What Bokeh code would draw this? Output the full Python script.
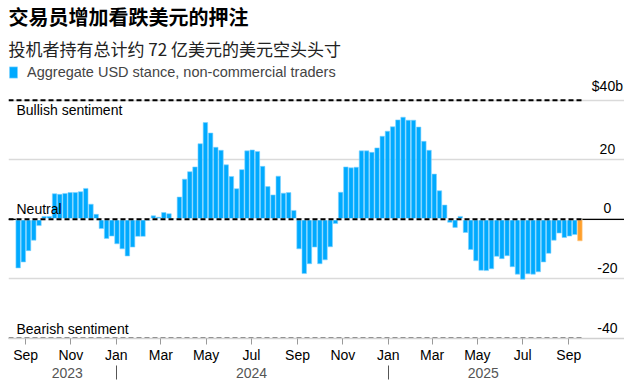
import pandas as pd
from bokeh.plotting import figure
from bokeh.models import (ColumnDataSource, DatetimeAxis, DatetimeTickFormatter,
                          FixedTicker, Title, Legend, LegendItem, Span)
from bokeh.core.properties import value
from bokeh.embed import file_html
from bokeh.resources import INLINE

# ---- data ----
first_week = "2023-08-22"
usd_stance = [
    -16.3, -14.3, -10.5, -7.0, -2.1, 1.0, 1.0, 8.6, 8.4, 8.7,
    9.0, 9.0, 9.3, 10.4, 5.1, 1.7, -3.1, -6.4, -5.6, -8.2,
    -9.9, -12.3, -9.3, -5.7, -5.7, -0.3, 1.2, 0.7, 2.3, 1.9,
    0.2, 7.5, 13.5, 16.0, 17.6, 25.4, 32.5, 29.0, 24.2, 23.2,
    18.3, 14.4, 10.3, 16.7, 23.0, 23.3, 22.8, 17.8, 11.0, 8.2,
    14.5, 8.8, 9.0, 3.0, -9.9, -18.2, -14.9, -9.3, -14.9, -13.6,
    -9.2, -1.4, 9.1, 17.6, 17.3, 17.5, 23.0, 23.0, 22.5, 24.0,
    27.9, 29.6, 31.1, 33.4, 34.3, 33.3, 33.3, 31.0, 26.2, 23.2,
    15.2, 9.6, 4.8, -1.0, -2.7, 1.0, -4.4, -10.1, -13.9, -17.1,
    -17.2, -16.6, -12.4, -13.2, -12.2, -15.9, -18.4, -20.1, -18.3, -18.4,
    -17.6, -14.3, -11.4, -7.0, -4.6, -6.1, -5.6, -5.1, -7.2,
]
week_dates = list(pd.date_range(first_week, periods=len(usd_stance), freq="7D"))

y_ticks = [-40, -20, 0, 20, 40]
y_tick_labels = ["-40", "-20", "0", "20", "$40b"]
sentiment_levels = [40, 0, -40]
sentiment_labels = ["Bullish sentiment", "Neutral", "Bearish sentiment"]
month_ticks = ["2023-09-01", "2023-11-01", "2024-01-01", "2024-03-01",
               "2024-05-01", "2024-07-01", "2024-09-01", "2024-11-01",
               "2025-01-01", "2025-03-01", "2025-05-01", "2025-07-01",
               "2025-09-01"]
year_labels_at = ["2023-10-27", "2024-07-01", "2025-05-09"]
year_separators = ["2024-01-01", "2025-01-01"]

title_text = "交易员增加看跌美元的押注"
subtitle_text = "投机者持有总计约 72 亿美元的美元空头头寸"
legend_text = "Aggregate USD stance, non-commercial traders"

BLUE = "#00aaff"
ORANGE = "#ff9f2b"
LATIN = "Liberation Sans"
CJK = "Noto Sans CJK SC"

def ms(d):
    return pd.Timestamp(d).value / 1e6

hist = ColumnDataSource(dict(date=week_dates[:-1], v=usd_stance[:-1]))
latest = ColumnDataSource(dict(date=week_dates[-1:], v=usd_stance[-1:]))

x_start = pd.Timestamp("2023-08-09")
x_end = x_start + pd.Timedelta(days=829)
day_ms = 86400000

p = figure(width=624, height=380, x_axis_type="datetime",
           x_range=(x_start, x_end), y_range=(-40, 52),
           y_axis_location=None, output_backend="svg", toolbar_location=None,
           title=None, min_border_left=8, min_border_right=0,
           min_border_top=0, min_border_bottom=0)
p.outline_line_color = None
p.xgrid.visible = False
p.ygrid.ticker = FixedTicker(ticks=y_ticks)
p.ygrid.grid_line_color = "#dadada"
p.ygrid.grid_line_width = 1.5

# zero baseline
p.add_layout(Span(location=0, dimension="width", line_color="black",
                  line_width=1.2, level="underlay"))

bw = 6 * day_ms
blue_r = p.vbar(x="date", top="v", bottom=0, width=bw, source=hist,
                fill_color=BLUE, line_color="#7fd3ff", line_width=0.6)
p.vbar(x="date", top="v", bottom=0, width=bw, source=latest,
       fill_color=ORANGE, line_color="#ffc77f", line_width=0.6)

# dashed sentiment lines
dash_end = week_dates[-1] + pd.Timedelta(days=3)
p.segment(x0=[week_dates[0] - pd.Timedelta(days=3)], y0=[0],
          x1=[dash_end], y1=[0], line_color="white", line_width=2)
p.segment(x0=[x_start] * 3, y0=sentiment_levels, x1=[dash_end] * 3,
          y1=sentiment_levels, line_color="black", line_width=2,
          line_dash="5 3")

# sentiment labels
p.text(x=[x_start], y=sentiment_levels[:1], text=sentiment_labels[:1],
       x_offset=8, y_offset=2, text_baseline="top", text_align="left",
       text_font=value(LATIN), text_font_size="14px", text_color="black")
p.text(x=[x_start] * 2, y=sentiment_levels[1:], text=sentiment_labels[1:],
       x_offset=8, y_offset=-2, text_baseline="bottom", text_align="left",
       text_font=value(LATIN), text_font_size="14px", text_color="black")

# y tick labels
label_x = x_end - pd.Timedelta(days=23)
p.text(x=[label_x] * len(y_ticks), y=y_ticks, text=y_tick_labels,
       y_offset=-6, text_baseline="bottom", text_align="center",
       text_font=value(LATIN), text_font_size="14px", text_color="black")

# month axis
xa = p.xaxis[0]
xa.ticker = FixedTicker(ticks=[ms(d) for d in month_ticks])
xa.formatter = DatetimeTickFormatter(days="%b", months="%b", years="%b")
xa.axis_line_color = "#d0d0d0"
xa.axis_line_width = 1.5
xa.major_tick_line_color = "#9a9a9a"
xa.major_tick_in = 0
xa.major_tick_out = 6
xa.minor_tick_line_color = None
xa.major_label_standoff = 2
xa.major_label_text_font = LATIN
xa.major_label_text_font_size = "14px"
xa.major_label_text_color = "black"

# year axis
ya = DatetimeAxis(
    ticker=FixedTicker(ticks=[ms(d) for d in year_labels_at],
                       minor_ticks=[ms(d) for d in year_separators]),
    formatter=DatetimeTickFormatter(days="%Y", months="%Y", years="%Y"))
ya.axis_line_color = None
ya.major_tick_line_color = None
ya.major_tick_in = 0
ya.major_tick_out = 0
ya.minor_tick_in = 0
ya.minor_tick_out = 14
ya.minor_tick_line_color = "#555555"
ya.major_label_standoff = -12
ya.major_label_text_font = LATIN
ya.major_label_text_font_size = "14px"
ya.major_label_text_color = "#555555"
p.add_layout(ya, "below")

# legend inside the frame, top-left
legend = Legend(items=[LegendItem(label=legend_text, renderers=[blue_r])],
                location="top_left", orientation="horizontal",
                border_line_color=None, background_fill_alpha=0,
                margin=0, padding=2, glyph_width=10, glyph_height=14,
                label_standoff=9, label_height=14,
                label_text_font=LATIN, label_text_font_size="14.5px")
p.add_layout(legend, "center")

# subtitle, title (stacked above)
p.add_layout(Title(text=subtitle_text, text_font=CJK, text_font_size="17px",
                   text_font_style="normal", text_color="#222222",
                   standoff=8, offset=0), "above")
p.add_layout(Title(text=title_text, text_font=CJK, text_font_size="20px",
                   text_font_style="bold", text_color="black",
                   standoff=-2, offset=0), "above")

open("out.html", "w").write(file_html(p, INLINE))
